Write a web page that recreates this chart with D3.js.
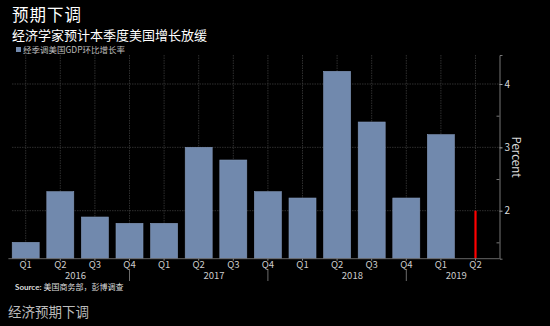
<!DOCTYPE html>
<html>
<head>
<meta charset="utf-8">
<script src="https://cdn.jsdelivr.net/npm/d3@7/dist/d3.min.js"></script>
<style>
  html, body { margin: 0; padding: 0; background: #000; }
  svg { display: block; }
  text { font-family: "Noto Sans CJK SC", "Noto Sans", sans-serif; }
</style>
</head>
<body>
<svg id="chart" width="550" height="326"></svg>
<script>
// Quarterly US GDP growth (q/q annualised, seasonally adjusted), percent
const quarters = ["Q1", "Q2", "Q3", "Q4", "Q1", "Q2", "Q3", "Q4", "Q1", "Q2", "Q3", "Q4", "Q1", "Q2"];
const years    = ["2016", "2016", "2016", "2016", "2017", "2017", "2017", "2017", "2018", "2018", "2018", "2018", "2019", "2019"];
const growth   = [1.5, 2.3, 1.9, 1.8, 1.8, 3.0, 2.8, 2.3, 2.2, 4.2, 3.4, 2.2, 3.2, null];
// Economists' forecast for the current quarter
const forecastIndex = 13;
const forecastValue = 2.0;
const yTicks = [2, 3, 4];
const yMinorTicks = [1.5, 2.5, 3.5];

const svg = d3.select("#chart");
const keys = quarters.map((q, i) => i);

const x = d3.scaleBand().domain(keys).range([8.4, 492.8]).paddingInner(0.22).paddingOuter(0.11);
const y = d3.scaleLinear().domain([1.242, 4.458]).range([258.7, 55]);
const axisX = 499.5;
const cx = i => x(i) + x.bandwidth() / 2;

// grid
const grid = svg.append("g");
grid.selectAll("line.v").data(keys).join("line")
  .attr("x1", d => cx(d)).attr("x2", d => cx(d))
  .attr("y1", y.range()[1]).attr("y2", y.range()[0])
  .attr("stroke", "#3a3a3a").attr("stroke-width", 0.8).attr("stroke-dasharray", "1.5,1");
grid.selectAll("line.h").data(yTicks).join("line")
  .attr("x1", 12).attr("x2", axisX)
  .attr("y1", d => y(d)).attr("y2", d => y(d))
  .attr("stroke", "#3a3a3a").attr("stroke-width", 0.8).attr("stroke-dasharray", "1.5,1");

// bars
svg.append("g").selectAll("rect").data(keys.filter(i => growth[i] != null)).join("rect")
  .attr("x", d => x(d)).attr("width", x.bandwidth())
  .attr("y", d => y(growth[d])).attr("height", d => y.range()[0] - y(growth[d]))
  .attr("fill", "#7189ad").attr("stroke", "#8499bb").attr("stroke-width", 0.6);

// forecast marker
svg.append("line")
  .attr("x1", cx(forecastIndex)).attr("x2", cx(forecastIndex))
  .attr("y1", y.range()[0]).attr("y2", y(forecastValue))
  .attr("stroke", "#ff0000").attr("stroke-width", 2.2);

// baseline
svg.append("line").attr("x1", 8.4).attr("x2", axisX)
  .attr("y1", y.range()[0]).attr("y2", y.range()[0])
  .attr("stroke", "#666").attr("stroke-width", 1);

// right axis
const yAxis = d3.axisRight(y).tickValues(yTicks).tickSize(3).tickPadding(2).tickFormat(d3.format("d"));
const ya = svg.append("g").attr("transform", `translate(${axisX},0)`).call(yAxis);
ya.select(".domain").attr("stroke", "#777");
ya.selectAll(".tick line").attr("stroke", "#aaa");
ya.selectAll(".tick text").attr("fill", "#ddd").attr("font-size", 10).attr("font-family", "Lato, sans-serif");
const yMinor = d3.axisLeft(y).tickValues(yMinorTicks).tickSize(3).tickFormat("");
const ym = svg.append("g").attr("transform", `translate(${axisX},0)`).call(yMinor);
ym.select(".domain").remove();
ym.selectAll(".tick line").attr("stroke", "#777");

svg.append("text").attr("transform", `translate(512,157) rotate(90)`)
  .attr("text-anchor", "middle").attr("fill", "#ddd").attr("font-size", 11.5)
  .attr("font-family", "Lato, sans-serif").text("Percent");

// x axis
const xAxis = d3.axisBottom(x).tickSize(2).tickPadding(1).tickFormat(i => quarters[i]);
const xa = svg.append("g").attr("transform", `translate(0,${y.range()[0]})`).call(xAxis);
xa.select(".domain").remove();
xa.selectAll(".tick line").attr("stroke", "#888");
xa.selectAll(".tick text").attr("fill", "#ccc").attr("font-size", 9.5).attr("font-family", "Lato, sans-serif");

// year groups
const yearNames = Array.from(new Set(years));
const yearGroup = svg.append("g");
yearNames.forEach(yr => {
  const idx = keys.filter(i => years[i] === yr);
  const mid = d3.mean(idx, i => cx(i)) - 2;
  yearGroup.append("text").attr("x", mid).attr("y", 279).attr("text-anchor", "middle")
    .attr("fill", "#ccc").attr("font-size", 9.5).attr("font-family", "Lato, sans-serif").text(yr);
  const last = idx[idx.length - 1];
  if (quarters[last] === "Q4") {
    yearGroup.append("line").attr("x1", cx(last)).attr("x2", cx(last))
      .attr("y1", 270).attr("y2", 281).attr("stroke", "#888").attr("stroke-width", 0.8);
  }
});

// titles
svg.append("text").attr("x", 12).attr("y", 21).attr("fill", "#fff")
  .attr("font-size", 16.5).attr("letter-spacing", 1).text("预期下调");
svg.append("text").attr("x", 12).attr("y", 39.5).attr("fill", "#fff")
  .attr("font-size", 13).text("经济学家预计本季度美国增长放缓");

// legend
svg.append("rect").attr("x", 16).attr("y", 47).attr("width", 5).attr("height", 5).attr("fill", "#7189ad");
svg.append("text").attr("x", 23).attr("y", 52.8).attr("fill", "#bbb")
  .attr("font-size", 8.5).text("经季调美国GDP环比增长率");

// source
const src = svg.append("text").attr("x", 15).attr("y", 290).attr("fill", "#ddd").attr("font-size", 8);
src.append("tspan").attr("font-weight", "bold").attr("font-family", "Lato, sans-serif").text("Source: ");
src.append("tspan").text("美国商务部，彭博调查");

// footer
svg.append("text").attr("x", 8).attr("y", 317).attr("fill", "#bbb")
  .attr("font-size", 13.5).text("经济预期下调");
</script>
</body>
</html>
